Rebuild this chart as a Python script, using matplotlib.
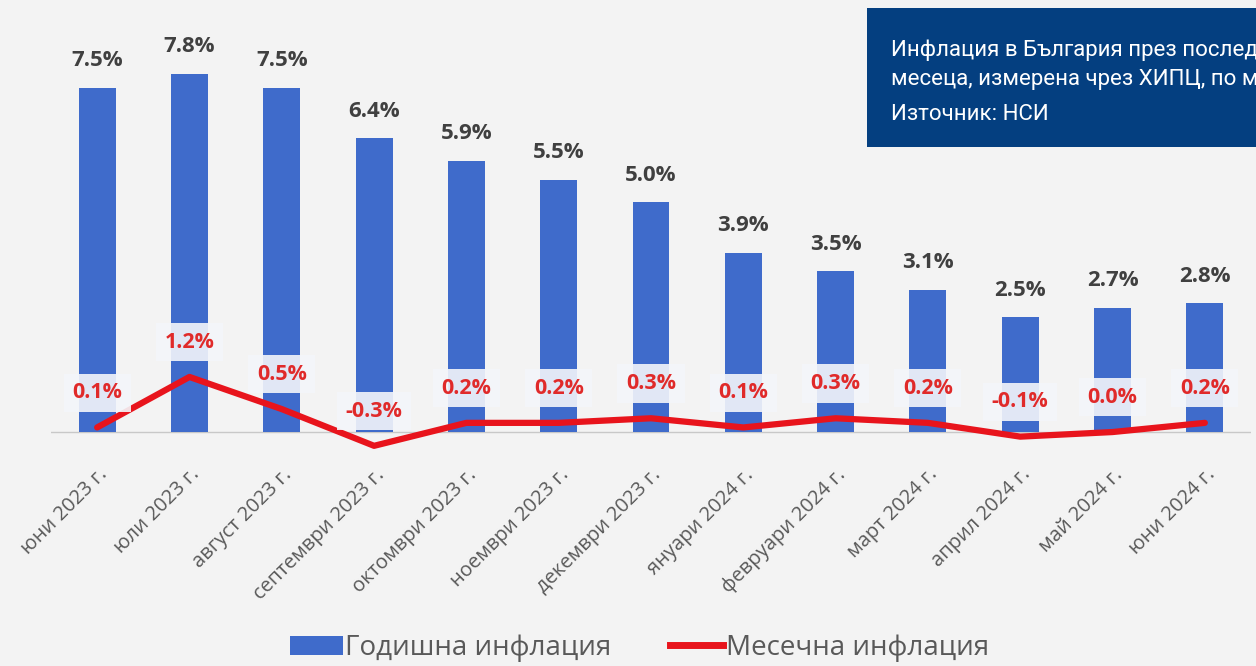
import matplotlib.pyplot as plt
from matplotlib.patches import Patch, Rectangle
from matplotlib.lines import Line2D

# Годишна и месечна инфлация (ХИПЦ), юни 2023 - юни 2024
months = ['юни 2023 г.', 'юли 2023 г.', 'август 2023 г.', 'септември 2023 г.',
          'октомври 2023 г.', 'ноември 2023 г.', 'декември 2023 г.', 'януари 2024 г.',
          'февруари 2024 г.', 'март 2024 г.', 'април 2024 г.', 'май 2024 г.', 'юни 2024 г.']
annual = [7.5, 7.8, 7.5, 6.4, 5.9, 5.5, 5.0, 3.9, 3.5, 3.1, 2.5, 2.7, 2.8]
monthly = [0.1, 1.2, 0.5, -0.3, 0.2, 0.2, 0.3, 0.1, 0.3, 0.2, -0.1, 0.0, 0.2]

plt.rcParams['font.family'] = ['Open Sans', 'DejaVu Sans']

bg = '#F3F3F3'
bar_col = '#3F6BCB'
red = '#E8141C'

fig = plt.figure(figsize=(12.56, 6.66), dpi=100, facecolor=bg)
ax = fig.add_axes([51 / 1256, 1 - 455 / 666, 1200 / 1256, (455 - 28) / 666])
ax.set_facecolor('none')

x = list(range(len(months)))
ax.bar(x, annual, width=0.4, color=bar_col, zorder=2)
ax.plot(x, monthly, color=red, lw=4.5, solid_capstyle='round', zorder=3)
ax.axhline(0, color='#C8C8C8', lw=1, zorder=1)

for i, v in enumerate(annual):
    ax.annotate(f'{v:.1f}%', (i, v), xytext=(0, 12), textcoords='offset points',
                ha='center', va='bottom', fontsize=16, fontweight='bold', color='#404040')

for i, v in enumerate(monthly):
    ax.annotate(f'{v:.1f}%', (i, v), xytext=(0, 25), textcoords='offset points',
                ha='center', va='center', fontsize=15.5, fontweight='bold', color='#E02A2A',
                zorder=4,
                bbox=dict(boxstyle='square,pad=0.4', facecolor='#F4F6FA', edgecolor='none', alpha=0.9))

ax.set_xlim(-0.5, len(months) - 0.5)
ax.set_ylim(-0.5, 8.8)
ax.set_xticks(x)
ax.set_xticklabels(months, rotation=45, ha='right', rotation_mode='anchor',
                   fontsize=14.5, color='#595959')
ax.tick_params(axis='x', length=0, pad=7)
ax.set_yticks([])
for s in ax.spines.values():
    s.set_visible(False)

# легенда
handles = [Patch(facecolor=bar_col, edgecolor='none'),
           Line2D([0], [0], color=red, lw=5)]
fig.legend(handles, ['Годишна инфлация', 'Месечна инфлация'], loc='center',
           bbox_to_anchor=(0.509, 1 - 648 / 666), ncol=2, frameon=False, fontsize=20,
           labelcolor='#595959', handlelength=1.9, handleheight=0.7, handletextpad=0.1,
           columnspacing=2.1)

# каре със заглавие
fig.patches.append(Rectangle((867 / 1256, 1 - 147 / 666), 1 - 867 / 1256, 139 / 666,
                             transform=fig.transFigure, facecolor='#043F80', edgecolor='none'))
fig.text(891 / 1256, 1 - 50 / 666, 'Инфлация в България през последните 12',
         color='white', fontsize=16, family='Roboto', va='center')
fig.text(891 / 1256, 1 - 80 / 666, 'месеца, измерена чрез ХИПЦ, по месеци',
         color='white', fontsize=16, family='Roboto', va='center')
fig.text(891 / 1256, 1 - 115 / 666, 'Източник: НСИ',
         color='white', fontsize=16, family='Roboto', va='center')

fig.savefig('out.png', dpi=100, facecolor=bg)
